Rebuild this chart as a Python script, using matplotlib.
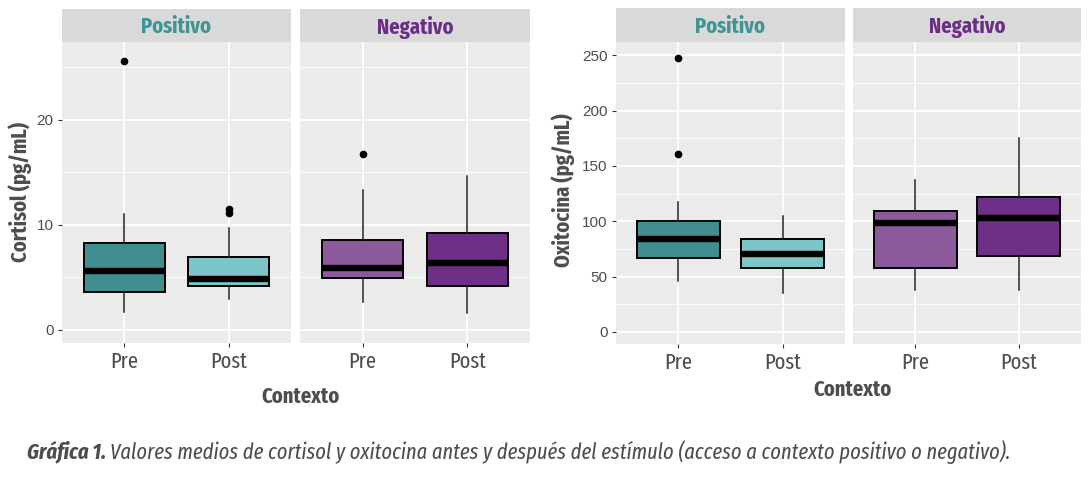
import matplotlib
matplotlib.use("Agg")
import matplotlib.pyplot as plt
from matplotlib.ticker import MultipleLocator

# data (five-number summaries + outliers)
contextos = ["Positivo", "Negativo"]
momentos = ["Pre", "Post"]

cort_low = [[1.7, 2.9], [2.7, 1.6]]
cort_q1 = [[3.6, 4.2], [4.95, 4.2]]
cort_med = [[5.6, 4.8], [5.9, 6.4]]
cort_q3 = [[8.3, 6.95], [8.55, 9.2]]
cort_high = [[11.0, 9.7], [13.3, 14.6]]
cort_out = [[[25.6], [11.1, 11.5]], [[16.7], []]]

oxi_low = [[46, 35], [38, 38]]
oxi_q1 = [[66.5, 57.5], [58, 68.5]]
oxi_med = [[84, 70.5], [98.5, 102.5]]
oxi_q3 = [[100, 84], [109.5, 122]]
oxi_high = [[117, 105], [137, 175]]
oxi_out = [[[247.5, 160.5], []], [[], []]]

fills = [["#428E8F", "#7DC6C8"], ["#8C5A9A", "#6E2F87"]]
strip_colors = ["#3F9494", "#6B2D87"]

cond = ["Fira Sans Extra Condensed", "DejaVu Sans"]
plt.rcParams['font.family'] = cond

W, H = 1088, 478
fig = plt.figure(figsize=(W / 100, H / 100), dpi=100)


def px_axes(x0, x1, y0, y1):
    return fig.add_axes([x0 / W, 1 - y1 / H, (x1 - x0) / W, (y1 - y0) / H])


def draw_panel(ax, k, low, q1, med, q3, high, out, ylim, major, minor, width, show_y):
    stats = []
    for j in range(2):
        stats.append(dict(whislo=low[k][j], q1=q1[k][j], med=med[k][j], q3=q3[k][j],
                          whishi=high[k][j], fliers=out[k][j]))
    ax.set_facecolor("#EBEBEB")
    ax.yaxis.set_major_locator(MultipleLocator(major))
    ax.yaxis.set_minor_locator(MultipleLocator(minor))
    ax.grid(which="major", color="white", lw=1.3)
    ax.grid(which="minor", axis="y", color="white", lw=0.6)
    ax.set_axisbelow(True)
    b = ax.bxp(stats, positions=[1, 2], widths=width, patch_artist=True, showcaps=False,
               boxprops=dict(edgecolor="black", lw=1.4),
               medianprops=dict(color="black", lw=4.6, solid_capstyle="butt"),
               whiskerprops=dict(color="#222222", lw=1.1),
               flierprops=dict(marker="o", markerfacecolor="black", markeredgecolor="black",
                               markersize=4.5))
    for p, c in zip(b["boxes"], fills[k]):
        p.set_facecolor(c)
    ax.set_xlim(0.4, 2.6)
    ax.set_ylim(*ylim)
    ax.set_xticks([1, 2])
    ax.set_xticklabels(momentos, fontsize=16, color="#4D4D4D")
    for s in ax.spines.values():
        s.set_visible(False)
    ax.tick_params(axis="x", length=3, color="#333333", pad=3)
    ax.tick_params(axis="y", which="minor", length=0)
    if show_y:
        ax.tick_params(axis="y", length=3, color="#333333", labelsize=11,
                       labelcolor="#4D4D4D", pad=3)
        for t in ax.get_yticklabels():
            t.set_family("Liberation Sans")
    else:
        ax.tick_params(axis="y", length=0, labelleft=False)


def draw_strip(x0, x1, y0, y1, k):
    s = px_axes(x0, x1, y0, y1)
    s.set_facecolor("#D9D9D9")
    s.set_xticks([])
    s.set_yticks([])
    for sp in s.spines.values():
        sp.set_visible(False)
    s.text(0.5, 0.45, contextos[k], ha="center", va="center", fontsize=16,
           fontweight="bold", color=strip_colors[k], transform=s.transAxes)


# cortisol
left_x = [(62, 291), (300, 530)]
for k, (x0, x1) in enumerate(left_x):
    ax = px_axes(x0, x1, 42, 343)
    draw_panel(ax, k, cort_low, cort_q1, cort_med, cort_q3, cort_high, cort_out,
               (-1.25, 27.4), 10, 5, 0.77, k == 0)
    draw_strip(x0, x1, 9, 42, k)
fig.text(20 / W, 1 - 192 / H, "Cortisol (pg/mL)", rotation=90, ha="center", va="center",
         fontsize=16, fontweight="bold", color="#4D4D4D")
fig.text(300 / W, 1 - 397 / H, "Contexto", ha="center", va="center",
         fontsize=16, fontweight="bold", color="#4D4D4D")

# oxitocina
right_x = [(616, 845), (853, 1081)]
for k, (x0, x1) in enumerate(right_x):
    ax = px_axes(x0, x1, 42, 344)
    draw_panel(ax, k, oxi_low, oxi_q1, oxi_med, oxi_q3, oxi_high, oxi_out,
               (-11, 262), 50, 25, 0.8, k == 0)
    draw_strip(x0, x1, 8, 42, k)
fig.text(563 / W, 1 - 190 / H, "Oxitocina (pg/mL)", rotation=90, ha="center", va="center",
         fontsize=16, fontweight="bold", color="#4D4D4D")
fig.text(853 / W, 1 - 390 / H, "Contexto", ha="center", va="center",
         fontsize=16, fontweight="bold", color="#4D4D4D")

# caption: bold italic lead-in, then italic text right after it
lead = fig.text(27 / W, 1 - 452 / H, "Gráfica 1.", ha="left", va="center",
                fontsize=16, style="italic", fontweight="bold", color="#4D4D4D")
fig.canvas.draw()
bb = lead.get_window_extent()
fig.text(bb.x1 / W + 4 / W, 1 - 452 / H,
         "Valores medios de cortisol y oxitocina antes y después del estímulo (acceso a contexto positivo o negativo).",
         ha="left", va="center", fontsize=16, style="italic", color="#4D4D4D")

fig.savefig("out.png", dpi=100, facecolor="white")
